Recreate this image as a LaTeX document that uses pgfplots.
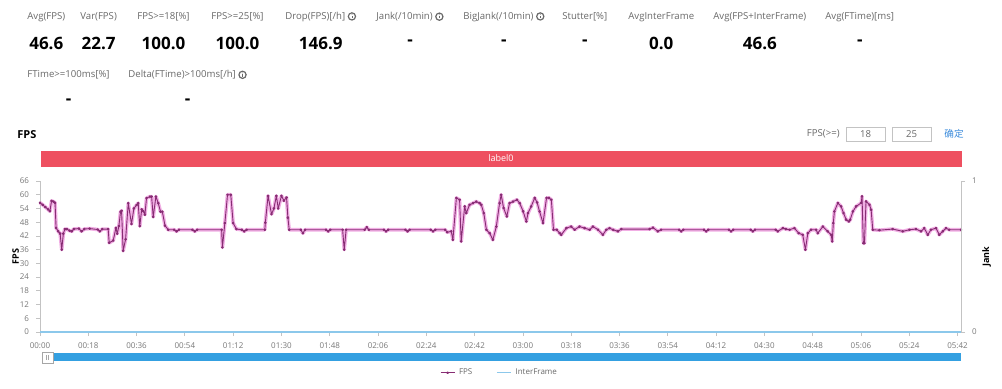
\documentclass[border=0pt]{standalone}
\usepackage{pgfplots}
\usepackage{pgfplotstable}
\pgfplotsset{compat=1.18}
\usepackage{fontspec}
\setmainfont{Open Sans}
\newfontfamily\cjk{Noto Sans CJK SC}
\definecolor{lblgray}{RGB}{105,105,105}
\definecolor{tickgray}{RGB}{120,120,120}
\definecolor{barred}{RGB}{238,80,96}
\definecolor{sliderblue}{RGB}{52,160,225}
\definecolor{fpsline}{RGB}{135,45,115}
\definecolor{fpshalo}{RGB}{232,120,210}
\definecolor{axisgray}{RGB}{195,195,195}
\definecolor{linkblue}{RGB}{60,140,220}
\definecolor{ifblue}{RGB}{140,200,235}
\newcommand{\lbl}{\fontsize{4.8}{5.5}\selectfont\color{lblgray}}
\newcommand{\val}{\fontsize{8.5}{10}\selectfont\bfseries}
\newcommand{\info}{\tikz[baseline=-0.6ex]{\draw[lblgray, line width=0.6pt] (0,0) circle (1.8pt);\fill[lblgray] (-0.15pt,-0.9pt) rectangle (0.15pt,0.45pt);\fill[lblgray] (0,0.95pt) circle (0.2pt);}}

\pgfplotstableread{
t v
0 56.5
1 55.6
2 54.6
3 53.6
3.7 52.8
4.3 57.3
5.0 57.0
5.6 56.5
6.0 45.5
6.8 44.0
7.5 43.0
8.1 36.0
8.7 43.0
9.3 45.0
10.0 45.0
11.0 44.3
11.8 44.0
12.6 45.0
14.5 45.2
15.5 44.0
16.5 45.0
18.5 45.2
21.5 44.8
22.3 44.0
23.2 45.0
25.4 45.0
25.8 39.0
27.3 40.0
28.3 45.5
28.8 43.0
29.4 46.3
30.0 52.5
30.4 53.0
31.0 35.5
31.9 40.5
32.9 56.3
34.1 47.2
35.0 54.0
36.0 55.5
36.6 56.3
37.2 46.3
37.9 53.6
38.5 52.8
39.1 51.3
39.7 58.5
41.0 59.2
41.6 59.2
42.2 50.3
43.2 59.2
44.1 56.3
44.9 52.6
45.6 52.6
46.6 46.5
47.8 44.7
50.0 44.7
50.9 44.0
51.8 44.7
56.8 44.7
57.7 44.0
58.6 44.7
67.7 44.7
68.0 37.0
68.9 47.6
69.9 60.0
71.1 60.0
72.0 47.6
73.2 45.0
75.2 44.7
76.1 44.0
77.0 44.7
83.8 44.7
84.0 47.8
85.0 59.5
86.3 51.5
87.2 54.0
88.1 59.5
88.8 54.0
90.0 59.5
90.9 57.4
91.9 58.8
92.4 50.0
92.9 44.7
97.2 44.7
98.0 43.2
98.8 44.7
106.6 44.7
107.4 44.0
108.2 44.7
112.8 44.7
113.4 36.0
114.1 44.7
121.0 44.7
121.8 45.8
122.6 44.7
128.2 44.7
129.0 44.0
129.8 44.7
136.2 44.7
137.0 44.0
137.8 44.7
145.6 44.7
146.5 44.0
147.4 44.7
151.0 44.7
151.8 43.6
153.3 44.0
153.9 40.3
155.2 58.6
156.4 57.8
157.0 39.6
158.3 54.9
158.9 52.0
160.1 55.6
161.4 56.3
162.6 57.0
163.9 56.3
164.5 55.6
165.4 52.0
166.4 44.7
167.6 43.2
168.8 40.3
170.1 46.1
171.3 56.3
171.9 60.0
172.8 54.2
174.0 50.5
175.0 56.3
176.3 57.0
177.8 57.8
178.8 56.3
180.1 52.7
181.3 48.3
181.9 52.0
183.1 54.9
184.4 58.6
185.3 56.6
186.2 52.7
187.5 47.6
188.8 58.6
189.7 58.6
190.6 57.8
191.4 44.7
192.6 44.7
193.7 43.2
194.3 42.5
196.2 45.4
198.0 46.1
199.3 44.7
201.1 46.1
203.0 45.4
204.9 44.7
206.1 46.1
208.0 44.7
209.8 42.5
211.1 44.7
212.3 45.4
213.6 44.7
215.4 44.0
216.7 45.0
227.2 45.0
228.5 45.6
230.3 44.0
231.5 44.7
238.2 44.7
239.0 44.0
239.8 44.7
247.5 44.7
248.3 44.0
249.1 44.7
256.8 44.7
257.6 44.0
258.4 44.7
264.9 44.7
265.7 44.0
266.5 44.7
274.2 44.7
275.0 44.0
276.9 45.4
278.0 45.0
279.4 44.7
281.2 45.4
282.8 43.2
284.3 42.5
285.3 36.0
286.2 43.2
287.4 44.7
289.3 44.7
289.9 43.2
291.8 46.1
293.6 44.0
294.9 42.5
295.3 39.6
295.7 47.6
296.1 52.7
297.4 56.4
298.6 54.9
299.5 52.0
300.5 49.1
301.5 48.3
302.0 49.1
303.0 52.7
304.2 54.9
306.1 56.4
306.4 59.3
306.9 38.8
307.3 38.8
307.9 57.1
309.2 55.6
309.8 53.4
310.4 44.7
312.9 44.5
317.8 45.0
321.6 44.0
324.1 44.7
326.5 45.0
328.4 44.0
329.6 45.4
330.9 42.5
332.1 44.7
334.0 45.4
335.2 42.5
336.5 44.0
337.7 45.4
338.9 44.7
343.3 44.7
}\fpsdata

\begin{document}
\begin{tikzpicture}
\path[use as bounding box, fill=white] (0,0) rectangle (501pt,194pt);
\begin{scope}[shift={(0pt,194pt)}, x=0.5pt, y=-0.5pt]
  \coordinate (r1) at (0,43);
  \coordinate (r2) at (0,102);
  \foreach \x/\name/\txt/\v in {
      27/a/{Avg(FPS)}/{46.6},
      80/b/{Var(FPS)}/{22.7},
      137/c/{FPS>=18[\%]}/{100.0},
      211/d/{FPS>=25[\%]}/{100.0},
      285/e/{Drop(FPS)[/h] \info}/{146.9},
      376/f/{Jank(/10min) \info}/{-},
      463/g/{BigJank(/10min) \info}/{-},
      562/h/{Stutter[\%]}/{-},
      628/i/{AvgInterFrame}/{0.0},
      713/j/{Avg(FPS+InterFrame)}/{46.6},
      825/k/{Avg(FTime)[ms]}/{-}}{
    \node[anchor=west, inner sep=0pt, font=\lbl] (\name) at (\x,17) {\txt};
    \node[inner sep=0pt, font=\val] at (\name.center |- r1) {\v};
  }
  \node[anchor=west, inner sep=0pt, font=\lbl] (l) at (27,75) {FTime>=100ms[\%]};
  \node[inner sep=0pt, font=\val] at (l.center |- r2) {-};
  \node[anchor=west, inner sep=0pt, font=\lbl] (m) at (128,75) {Delta(FTime)>100ms[/h] \info};
  \node[inner sep=0pt, font=\val] at (m.center |- r2) {-};
  \node[anchor=west, inner sep=0pt, font=\fontsize{5.5}{6}\selectfont\bfseries] at (17,135) {FPS};
  \node[anchor=east, inner sep=0pt, font=\lbl] at (840,134) {FPS(>=)};
  \draw[axisgray, line width=0.4pt] (846,127) rectangle (885,141);
  \node[inner sep=0pt, font=\lbl] at (865.5,134) {18};
  \draw[axisgray, line width=0.4pt] (892,127) rectangle (931,141);
  \node[inner sep=0pt, font=\lbl] at (911.5,134) {25};
  \node[inner sep=0pt, font=\cjk\fontsize{4.8}{5.5}\selectfont\color{linkblue}] at (954,134) {确定};
  \fill[barred] (41,150.5) rectangle (961.5,166.5);
  \node[inner sep=0pt, font=\fontsize{4.5}{5}\selectfont\color{white}] at (501,158.5) {label0};
  \fill[sliderblue] (47,353) rectangle (961,361);
  \draw[fill=white, draw=gray!70, line width=0.4pt] (42,352) rectangle (53,363);
  \draw[gray!70, line width=0.3pt] (46.5,355) -- (46.5,360) (48.5,355) -- (48.5,360);
\end{scope}

\begin{axis}[at={(20pt,28pt)}, anchor=south west,
  width=460.5pt, height=75.5pt, scale only axis,
  xmin=0, xmax=343.3, ymin=0, ymax=66,
  axis y line*=left, axis x line*=bottom,
  ytick={0,6,...,66},
  xtick={0,18,...,342},
  xticklabels={00:00,00:18,00:36,00:54,01:12,01:30,01:48,02:06,02:24,02:42,03:00,03:18,03:36,03:54,04:12,04:30,04:48,05:06,05:24,05:42},
  /pgf/number format/assume math mode=true,
  tick label style={font=\fontsize{4}{4}\selectfont, color=tickgray},
  axis line style={axisgray, line width=0.4pt},
  tick style={axisgray, line width=0.4pt},
  major tick length=2pt, tick align=outside,
  ylabel={FPS},
  ylabel style={font=\fontsize{4.5}{5}\selectfont\bfseries, yshift=-6.5pt},
  clip=false,
  legend style={at={(0.5,-0.27)}, anchor=center, legend columns=2, draw=none, fill=none,
    font=\fontsize{4}{4}\selectfont\color{lblgray},
    /tikz/every even column/.append style={column sep=10pt}},
  legend image code/.code={\draw[mark repeat=2,mark phase=2,#1] plot coordinates {(0pt,0pt) (3.5pt,0pt) (7pt,0pt)};},
  legend cell align=left,
]
\addplot[forget plot, color=fpshalo, line width=1.8pt, opacity=0.6, line join=round] table[x=t,y=v]{\fpsdata};
\addplot[color=fpsline, line width=0.45pt, mark=*, mark size=0.45pt, mark options={fill=fpsline}, line join=round] table[x=t,y=v]{\fpsdata};
\addlegendentry{FPS}
\addplot[color=ifblue, line width=0.6pt] coordinates {(0,0) (343.3,0)};
\addlegendentry{InterFrame}
\end{axis}

\begin{axis}[at={(20pt,28pt)}, anchor=south west,
  width=460.5pt, height=75.5pt, scale only axis,
  xmin=0, xmax=1, ymin=0, ymax=1,
  axis y line*=right, axis x line=none,
  ytick={0,1},
  /pgf/number format/assume math mode=true,
  tick label style={font=\fontsize{4}{4}\selectfont, color=tickgray},
  axis line style={axisgray, line width=0.4pt},
  tick style={axisgray, line width=0.4pt},
  major tick length=2pt, tick align=outside,
  ylabel={Jank},
  ylabel style={font=\fontsize{4.5}{5}\selectfont\bfseries, yshift=4pt},
]
\addplot[draw=none] coordinates {(0,0)};
\end{axis}
\end{tikzpicture}
\end{document}
